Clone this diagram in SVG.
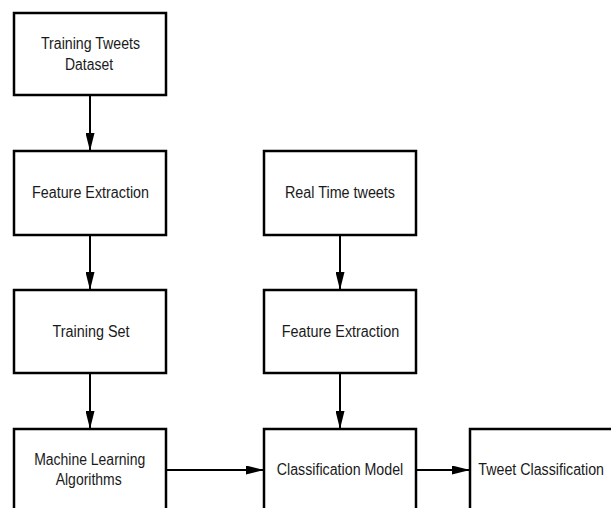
<svg xmlns="http://www.w3.org/2000/svg" width="611" height="508" viewBox="0 0 611 508">
<style>
.box{fill:#fff;stroke:#000;stroke-width:2.5}
.lbl{font-family:"Liberation Sans",Arial,sans-serif;font-size:16px;fill:#1a1a1a}
.con{stroke:#000;stroke-width:2;fill:none;marker-end:url(#ah)}
</style>
<defs>
<marker id="ah" markerWidth="18" markerHeight="9" refX="18" refY="4.5" orient="auto" markerUnits="userSpaceOnUse">
<path d="M0,0 L18,4.5 L0,9 Z" fill="#000"/>
</marker>
</defs>
<rect width="611" height="508" fill="#fff"/>
<g id="connectors">
<line class="con" x1="90" y1="95" x2="90" y2="151"/>
<line class="con" x1="90" y1="235" x2="90" y2="290"/>
<line class="con" x1="90" y1="373" x2="90" y2="429"/>
<line class="con" x1="340" y1="235" x2="340" y2="290"/>
<line class="con" x1="340" y1="373" x2="340" y2="429"/>
<line class="con" x1="166" y1="470" x2="264" y2="470"/>
<line class="con" x1="416" y1="470" x2="470" y2="470"/>
</g>
<g id="n1"><rect class="box" x="14" y="13" width="152" height="82"/>
<text class="lbl" x="90.5" y="48.5" text-anchor="middle" textLength="99" lengthAdjust="spacingAndGlyphs">Training Tweets</text>
<text class="lbl" x="89" y="69.5" text-anchor="middle" textLength="48" lengthAdjust="spacingAndGlyphs">Dataset</text></g>
<g id="n2"><rect class="box" x="14" y="151" width="152" height="84"/>
<text class="lbl" x="90.5" y="198" text-anchor="middle" textLength="117" lengthAdjust="spacingAndGlyphs">Feature Extraction</text></g>
<g id="n3"><rect class="box" x="14" y="290" width="152" height="83"/>
<text class="lbl" x="91" y="336.5" text-anchor="middle" textLength="77" lengthAdjust="spacingAndGlyphs">Training Set</text></g>
<g id="n4"><rect class="box" x="14" y="429" width="152" height="100"/>
<text class="lbl" x="89.7" y="465" text-anchor="middle" textLength="111" lengthAdjust="spacingAndGlyphs">Machine Learning</text>
<text class="lbl" x="88.7" y="484.5" text-anchor="middle" textLength="66" lengthAdjust="spacingAndGlyphs">Algorithms</text></g>
<g id="n5"><rect class="box" x="264" y="151" width="152" height="84"/>
<text class="lbl" x="340" y="198" text-anchor="middle" textLength="110" lengthAdjust="spacingAndGlyphs">Real Time tweets</text></g>
<g id="n6"><rect class="box" x="264" y="290" width="152" height="83"/>
<text class="lbl" x="340.5" y="336.5" text-anchor="middle" textLength="117.5" lengthAdjust="spacingAndGlyphs">Feature Extraction</text></g>
<g id="n7"><rect class="box" x="264" y="429" width="152" height="100"/>
<text class="lbl" x="340" y="475" text-anchor="middle" textLength="126.5" lengthAdjust="spacingAndGlyphs">Classification Model</text></g>
<g id="n8"><rect class="box" x="470" y="429" width="143" height="100"/>
<text class="lbl" x="478.3" y="475" textLength="125.7" lengthAdjust="spacingAndGlyphs">Tweet Classification</text></g>
</svg>
